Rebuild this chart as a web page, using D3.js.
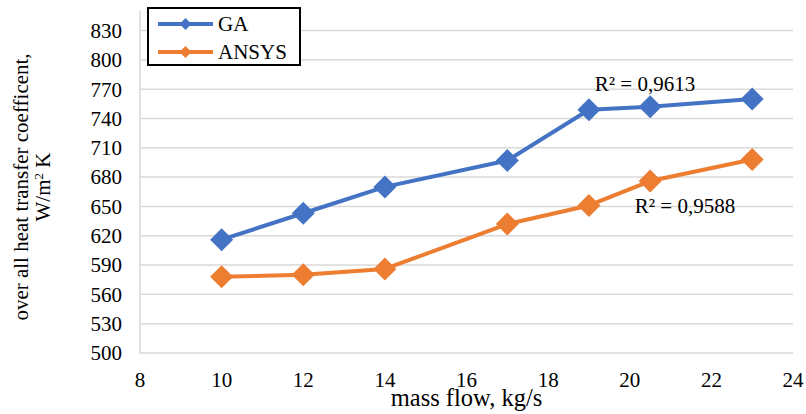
<!DOCTYPE html>
<html>
<head>
<meta charset="utf-8">
<script src="https://cdn.jsdelivr.net/npm/d3@7"></script>
<style>
  body { margin: 0; background: #fff; }
  svg text { font-family: "Liberation Serif", "Times New Roman", serif; fill: #000; }
</style>
</head>
<body>
<svg id="chart" width="806" height="414" font-family="Liberation Serif, serif"></svg>
<script>
// data
const massFlow = [10, 12, 14, 17, 19, 20.5, 23];
const gaValues = [616, 643, 670, 697, 749, 752, 760];
const ansysValues = [578, 580, 586, 632, 651, 676, 698];
const xTicks = [8, 10, 12, 14, 16, 18, 20, 22, 24];
const yTicks = [500, 530, 560, 590, 620, 650, 680, 710, 740, 770, 800, 830];
const seriesNames = ["GA", "ANSYS"];
const r2Labels = ["R² = 0,9613", "R² = 0,9588"];

const svg = d3.select("#chart");
const margin = { top: 11, right: 13, bottom: 61, left: 140 };
const width = 806 - margin.left - margin.right;
const height = 414 - margin.top - margin.bottom;

const x = d3.scaleLinear().domain([8, 24]).range([0, width]);
const y = d3.scaleLinear().domain([500, 850]).range([height, 0]);
const colors = ["#4472C4", "#ED7D31"];

const g = svg.append("g").attr("transform", `translate(${margin.left},${margin.top})`);

// gridlines
g.append("g")
  .selectAll("line")
  .data(yTicks)
  .join("line")
  .attr("x1", 0)
  .attr("x2", width)
  .attr("y1", (d) => y(d))
  .attr("y2", (d) => y(d))
  .attr("stroke", "#d9d9d9")
  .attr("stroke-width", 1.5);

// left axis line
g.append("line")
  .attr("x1", 0).attr("x2", 0)
  .attr("y1", 0).attr("y2", height)
  .attr("stroke", "#d9d9d9")
  .attr("stroke-width", 1.5);

// y tick labels
g.append("g")
  .selectAll("text")
  .data(yTicks)
  .join("text")
  .attr("x", -18)
  .attr("y", (d) => y(d))
  .attr("dy", "0.35em")
  .attr("text-anchor", "end")
  .style("font-size", "21px")
  .text((d) => d);

// x tick labels
g.append("g")
  .selectAll("text")
  .data(xTicks)
  .join("text")
  .attr("x", (d) => x(d))
  .attr("y", height + 34)
  .attr("text-anchor", "middle")
  .style("font-size", "21px")
  .text((d) => d);

// axis titles
g.append("text")
  .attr("x", width / 2)
  .attr("y", height + 53)
  .attr("text-anchor", "middle")
  .style("font-size", "24.5px")
  .text("mass flow, kg/s");

const yTitle = svg.append("text")
  .attr("transform", "translate(0,187) rotate(-90)")
  .attr("text-anchor", "middle")
  .style("font-size", "21px");
yTitle.append("tspan").attr("x", 0).attr("y", 28).text("over all heat transfer coefficent,");
const unit = yTitle.append("tspan").attr("x", 0).attr("y", 50);
unit.append("tspan").text("W/m");
unit.append("tspan").attr("dy", -7).style("font-size", "13px").text("2");
unit.append("tspan").attr("dy", 7).text(" K");

// series
const series = [gaValues, ansysValues];
const line = d3.line()
  .x((d, i) => x(massFlow[i]))
  .y((d) => y(d));
const diamond = (r) => `M0,${-r}L${r},0L0,${r}L${-r},0Z`;

series.forEach((vals, s) => {
  g.append("path")
    .datum(vals)
    .attr("fill", "none")
    .attr("stroke", colors[s])
    .attr("stroke-width", 4)
    .attr("stroke-linejoin", "round")
    .attr("d", line);

  g.append("g")
    .selectAll("path")
    .data(vals)
    .join("path")
    .attr("transform", (d, i) => `translate(${x(massFlow[i])},${y(d)})`)
    .attr("d", diamond(11.5))
    .attr("fill", colors[s]);
});

// R² labels
svg.append("text")
  .attr("x", 645).attr("y", 91)
  .attr("text-anchor", "middle")
  .style("font-size", "21px")
  .text(r2Labels[0]);
svg.append("text")
  .attr("x", 685).attr("y", 213)
  .attr("text-anchor", "middle")
  .style("font-size", "21px")
  .text(r2Labels[1]);

// legend
const legend = svg.append("g").attr("transform", "translate(148,8)");
legend.append("rect")
  .attr("width", 152).attr("height", 57)
  .attr("fill", "#fff")
  .attr("stroke", "#000")
  .attr("stroke-width", 2);
seriesNames.forEach((name, s) => {
  const row = legend.append("g").attr("transform", `translate(0,${16 + s * 28})`);
  row.append("line")
    .attr("x1", 10).attr("x2", 65)
    .attr("stroke", colors[s])
    .attr("stroke-width", 4);
  row.append("path")
    .attr("transform", "translate(37.5,0)")
    .attr("d", diamond(6))
    .attr("fill", colors[s]);
  row.append("text")
    .attr("x", 70)
    .attr("dy", "0.35em")
    .style("font-size", "21px")
    .text(name);
});
</script>
</body>
</html>
